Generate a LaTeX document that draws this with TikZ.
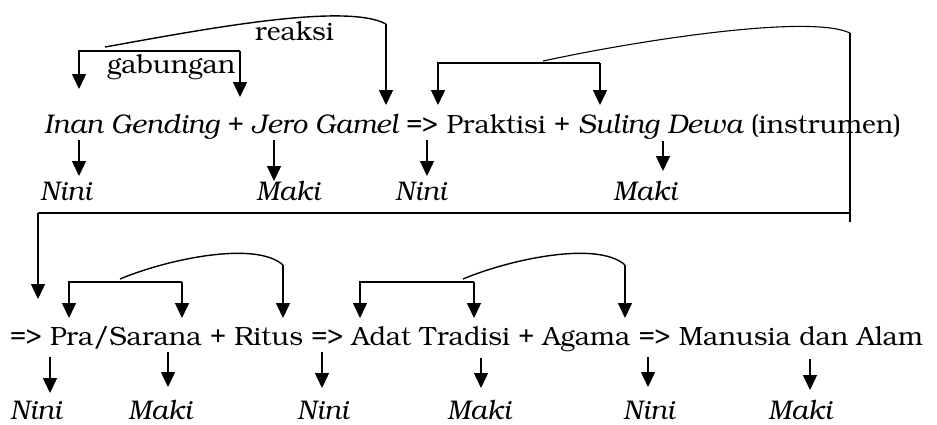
\documentclass[tikz,border=0pt]{standalone}
\usepackage[T1]{fontenc}
\usepackage{bookman}
\usetikzlibrary{arrows.meta}
\begin{document}
\begin{tikzpicture}[x=1pt,y=-1pt,
  txt/.style={anchor=base west, inner sep=0pt, outer sep=0pt, font=\fontsize{26.4}{30}\selectfont},
  itx/.style={txt, font=\fontsize{27}{30}\selectfont\itshape},
  arr/.style={line width=1.4pt, -{Triangle[width=14pt,length=15pt]}},
  ln/.style={line width=1.4pt},
  thinln/.style={line width=1.1pt}]
\useasboundingbox (0,0) rectangle (937,424);
% ---- line 1 ----
\node[itx] (ig)  at (44,133)      {Inan Gending};
\node[txt] (p1)  at (ig.base east) {\ +};
\node[itx] (jg)  at (p1.base east) {\ Jero Gamel};
\node[txt] (r1)  at (jg.base east) {\ =>};
\node[txt] (pr)  at (r1.base east) {\ Praktisi};
\node[txt] (p2)  at (pr.base east) {\ +};
\node[itx] (sd)  at (p2.base east) {\ Suling Dewa};
\node[txt] (ins) at (sd.base east) {\ (instrumen)};
% labels row 1
\node[itx] (n1) at (40,200)  {Nini};
\node[itx] (m1) at (256,200) {Maki};
\node[itx] (n2) at (395,200) {Nini};
\node[itx] (m2) at (613,200) {Maki};
\node[txt] (gab) at (107,73) {gabungan};
\node[txt] (rea) at (255,40) {reaksi};
% ---- line 2 ----
\node[txt] (r2) at (10,345)        {=>};
\node[txt] (ps) at (r2.base east) {\ Pra/Sarana};
\node[txt] (p3) at (ps.base east) {\ +};
\node[txt] (rt) at (p3.base east) {\ Ritus};
\node[txt] (r3) at (rt.base east) {\ =>};
\node[txt] (at) at (r3.base east) {\ Adat Tradisi};
\node[txt] (p4) at (at.base east) {\ +};
\node[txt] (ag) at (p4.base east) {\ Agama};
\node[txt] (r4) at (ag.base east) {\ =>};
\node[txt] (ma) at (r4.base east) {\ Manusia dan Alam};
% labels row 2
\node[itx] (n3) at (10,419)  {Nini};
\node[itx] (m3) at (128,419) {Maki};
\node[itx] (n4) at (297,419) {Nini};
\node[itx] (m4) at (447,419) {Maki};
\node[itx] (n5) at (623,419) {Nini};
\node[itx] (m5) at (768,419) {Maki};
% ---- coordinates ----
\coordinate (b1l) at (79,51);  \coordinate (b1lt) at (79,89);
\coordinate (b1r) at (240,51); \coordinate (b1rt) at (240,97);
\coordinate (c1s) at (105,47); \coordinate (c1e) at (386,24); \coordinate (c1t) at (386,105);
\coordinate (b2l) at (438,63); \coordinate (b2lt) at (438,105);
\coordinate (b2r) at (600,63); \coordinate (b2rt) at (600,105);
\coordinate (c2s) at (543,61); \coordinate (c2e) at (850,33); \coordinate (c2b) at (850,222);
\coordinate (h2r) at (850,213); \coordinate (h2l) at (38,213); \coordinate (h2t) at (38,299);
\coordinate (b3l) at (69,282);  \coordinate (b3lt) at (69,318);
\coordinate (b3r) at (182,282); \coordinate (b3rt) at (182,318);
\coordinate (c3s) at (120,279); \coordinate (c3e) at (283,265); \coordinate (c3t) at (283,318);
\coordinate (b4l) at (360,282); \coordinate (b4lt) at (360,318);
\coordinate (b4r) at (474,282); \coordinate (b4rt) at (474,318);
\coordinate (c4s) at (463,279); \coordinate (c4e) at (625,265); \coordinate (c4t) at (625,318);
% ---- brackets and curves ----
\draw[arr] (b1r) -- (b1rt);
\draw[arr] (b1r) -- (b1l) -- (b1lt);
\draw[ln] (c1s) .. controls (200,30) and (345,2) .. (c1e);
\draw[arr] (c1e) -- (c1t);
\draw[arr] (b2r) -- (b2rt);
\draw[arr] (b2r) -- (b2l) -- (b2lt);
\draw[thinln] (c2s) .. controls (640,40) and (810,14) .. (c2e);
\draw[thinln] (c2e) -- (c2b);
\draw[ln] (h2r) -- (h2l);
\draw[arr] (h2l) -- (h2t);
\draw[arr] (b3r) -- (b3rt);
\draw[arr] (b3r) -- (b3l) -- (b3lt);
\draw[ln] (c3s) .. controls (165,260) and (255,240) .. (c3e);
\draw[arr] (c3e) -- (c3t);
\draw[arr] (b4r) -- (b4rt);
\draw[arr] (b4r) -- (b4l) -- (b4lt);
\draw[ln] (c4s) .. controls (508,260) and (597,240) .. (c4e);
\draw[arr] (c4e) -- (c4t);
% ---- down arrows to labels ----
\foreach \n/\x/\a/\b in {d1/79/140/176, d2/274/140/181, d3/427/140/176, d4/663/141/171,
  d5/50/357/393, d6/168/352/387, d7/322/352/388, d8/481/358/388, d9/648/357/387, d10/810/359/390}{
  \coordinate (\n s) at (\x,\a);
  \coordinate (\n e) at (\x,\b);
  \draw[arr] (\n s) -- (\n e);
}
\end{tikzpicture}
\end{document}
